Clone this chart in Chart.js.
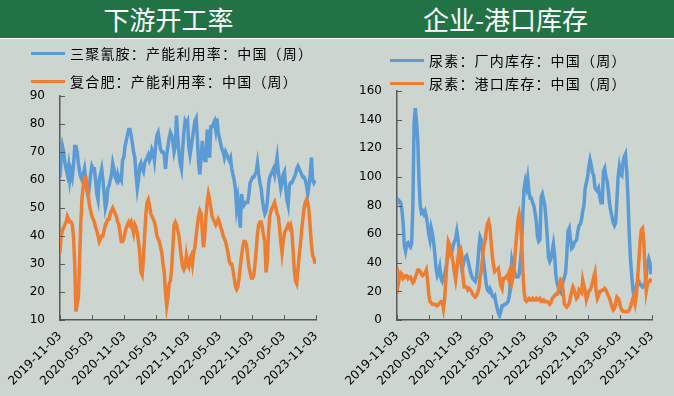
<!DOCTYPE html>
<html>
<head>
<meta charset="utf-8">
<script src="https://cdn.jsdelivr.net/npm/chart.js@4.4.1/dist/chart.umd.min.js"></script>
<style>
  body { margin: 0; width: 674px; height: 396px; background: #CCD5D0; overflow: hidden; }
  .panel { position: absolute; top: 0; width: 337px; height: 396px; }
  .head { height: 38px; line-height: 38px; background: #217346; border-bottom: 1px solid #fff;
          color: #fff; text-align: center; font: 26px 'Noto Sans CJK SC', sans-serif; }
  .panel canvas { position: absolute; left: 0; top: 39px; }
  .leg { position: absolute; display: flex; align-items: center; height: 20px;
         font: 14px 'Noto Sans CJK SC', sans-serif; letter-spacing: 1.2px; color: #000; white-space: nowrap; }
  .leg i { display: inline-block; width: 34px; height: 3px; margin-right: 5px; }
</style>
</head>
<body>
<div class="panel" style="left:0">
  <div class="head">下游开工率</div>
  <canvas id="rateChart" width="337" height="357"></canvas>
  <div class="leg" style="left:31px; top:43px"><i style="background:#5B9BD5"></i>三聚氰胺：产能利用率：中国（周）</div>
  <div class="leg" style="left:31px; top:71px"><i style="background:#ED7D31"></i>复合肥：产能利用率：中国（周）</div>
</div>
<div class="panel" style="left:337px">
  <div class="head">企业-港口库存</div>
  <canvas id="stockChart" width="337" height="357"></canvas>
  <div class="leg" style="left:53px; top:50px"><i style="background:#5B9BD5"></i>尿素：厂内库存：中国（周）</div>
  <div class="leg" style="left:53px; top:73px"><i style="background:#ED7D31"></i>尿素：港口库存：中国（周）</div>
</div>
<script>
// weekly series, first week = 2019-11-03
const startDate = '2019-11-03';
const tickLabels = ['2019-11-03', '2020-05-03', '2020-11-03', '2021-05-03', '2021-11-03',
                    '2022-05-03', '2022-11-03', '2023-05-03', '2023-11-03'];

// 三聚氰胺：产能利用率
const melamineRate = [
  61,68,72,70,66,64,62,65,60,63, 61,65,72,72,70,66,63,61,60,62,
  64,60,56,54,58,62,65,64,64,60, 55,53,60,62,64,60,55,50,52,57,
  58,60,62,66,64,61,60,62,60,61, 60,67,68,72,74,76,78,78,76,73,
  70,68,62,57,60,65,66,64,63,66, 67,68,69,67,68,71,70,67,72,76,
  77,74,71,70,70,69,64,69,72,75, 77,76,74,70,72,83,75,70,66,64,
  71,77,81,80,81,72,69,72,75,78, 81,82,75,66,62,68,74,69,67,67,
  78,72,68,79,79,80,81,78,82,77, 75,73,71,70,68,70,69,68,67,68,
  64,62,60,57,50,53,48,43,55,52, 51,52,52,52,55,59,60,61,61,62,
  63,66,62,59,57,53,50,48,49,52, 58,61,62,63,64,62,65,68,63,60,
  57,59,62,63,57,53,51,58,59,59, 60,61,62,64,65,64,63,62,61,61,
  60,58,55,58,62,68,60,59,60
];
// 复合肥：产能利用率
const compoundRate = [
  34,40,42,43,44,45,47,46,45,45, 44,40,30,13,16,18,32,45,54,58,
  61,61,58,55,51,49,47,46,45,43, 42,40,38,39,40,40,42,44,45,46,
  46,48,49,50,49,48,47,45,44,41, 38,38,39,41,43,44,45,44,45,43,
  41,44,43,41,38,34,27,26,32,40, 48,52,53,51,48,47,46,45,43,40,
  39,38,36,34,30,27,20,15,18,23, 24,28,36,44,45,44,42,40,36,32,
  29,28,29,33,30,29,32,33,30,34, 36,40,44,47,49,48,42,36,40,47,
  52,55,53,50,47,46,45,44,45,46, 45,43,42,40,39,38,36,34,31,30,
  30,28,25,22,21,22,25,29,33,36, 38,38,37,33,29,27,25,25,26,30,
  35,41,44,45,45,43,40,38,27,31, 41,47,49,50,51,52,50,48,47,43,
  38,34,38,41,42,43,44,43,44,42, 35,28,24,23,28,33,37,42,46,50,
  52,53,52,49,43,37,33,32,30
];
// 尿素：厂内库存
const ureaFactory = [
  81,84,83,82,77,68,52,48,53,54, 52,51,54,80,138,148,138,125,98,80,
  75,76,74,76,72,67,60,56,64,60, 54,46,36,31,33,37,29,27,30,32,
  36,42,45,47,50,48,52,55,57,62, 56,48,42,36,38,42,44,45,42,38,
  34,31,29,28,27,30,38,50,58,56, 48,40,33,25,21,20,22,20,17,16,
  17,12,8,5,3,6,10,10,11,11, 12,13,17,30,42,38,34,31,30,30,
  32,40,52,75,92,97,93,99,90,85, 85,82,80,75,69,58,55,56,86,88,
  84,80,70,58,44,41,43,48,53,45, 32,26,23,20,19,24,27,30,33,46,
  62,64,56,50,51,54,55,56,62,66, 67,70,76,80,92,96,100,107,112,108,
  103,101,93,91,90,92,86,82,82,104, 106,100,97,90,81,76,72,68,66,68,
  84,100,107,102,101,110,114,116,104,86, 62,44,32,22,16,18,24,27,27,25,
  24,23,24,26,30,40,43,40,32
];
// 尿素：港口库存
const ureaPort = [
  37,25,30,33,32,29,30,31,31,29, 30,30,28,26,27,30,32,35,35,34,
  32,31,32,33,35,28,18,13,12,11, 11,11,10,10,11,12,13,13,8,15,
  28,43,55,53,48,44,40,33,28,35, 44,49,50,45,30,23,23,23,21,22,
  21,20,18,17,16,17,19,22,30,35, 43,51,55,62,67,69,65,55,45,38,
  34,35,35,36,29,24,22,29,29,30, 31,29,34,36,26,30,38,50,60,70,
  74,69,55,35,20,14,13,14,15,14, 14,15,14,14,15,14,14,15,13,13,
  14,13,13,13,12,11,12,15,16,17, 18,18,20,25,28,27,20,11,10,9,
  10,12,16,20,23,21,18,15,16,21, 20,19,28,24,20,14,17,20,21,23,
  26,30,33,20,15,17,20,20,21,21, 22,21,19,17,15,12,9,7,8,12,
  16,15,13,9,7,6,6,6,6,6, 7,9,12,15,17,12,18,30,42,55,
  63,64,55,35,20,25,27,27,29
];

const DAY = 86400000;
const tickDays = tickLabels.map(d => (Date.parse(d) - Date.parse(startDate)) / DAY);
const toPoints = arr => arr.map((v, i) => ({ x: i * 7, y: v }));

Chart.defaults.font.family = "'DejaVu Sans', sans-serif";
Chart.defaults.font.size = 12;
Chart.defaults.color = '#000';

const axisColor = '#595959';

// Excel-style tick marks pointing into the plot
const innerTicks = {
    id: 'innerTicks',
    afterDraw(chart) {
        const { ctx, chartArea: a, scales: { x, y } } = chart;
        ctx.save();
        ctx.strokeStyle = axisColor;
        ctx.lineWidth = 1;
        ctx.beginPath();
        y.ticks.forEach(t => {
            const py = Math.round(y.getPixelForValue(t.value)) + 0.5;
            ctx.moveTo(a.left, py);
            ctx.lineTo(a.left + 5, py);
        });
        x.ticks.forEach(t => {
            const px = Math.round(x.getPixelForValue(t.value)) + 0.5;
            ctx.moveTo(px, a.bottom);
            ctx.lineTo(px, a.bottom - 5);
        });
        ctx.stroke();
        ctx.restore();
    }
};

function makeChart(id, blue, orange, yMin, yMax, yStep, padTop, padRight) {
    return new Chart(document.getElementById(id), {
        type: 'line',
        data: {
            datasets: [
                { data: toPoints(blue), borderColor: '#5B9BD5', borderWidth: 3.5, pointRadius: 0, order: 1 },
                { data: toPoints(orange), borderColor: '#ED7D31', borderWidth: 3.5, pointRadius: 0, order: 0 }
            ]
        },
        options: {
            responsive: false,
            animation: false,
            layout: { padding: { top: padTop, right: padRight, left: 0, bottom: 0 } },
            plugins: { legend: { display: false }, tooltip: { enabled: false } },
            scales: {
                x: {
                    type: 'linear',
                    min: 0,
                    max: tickDays[tickDays.length - 1],
                    grid: { display: false, drawTicks: false },
                    border: { display: true, color: axisColor, width: 1.5 },
                    afterBuildTicks: s => { s.ticks = tickDays.map(v => ({ value: v })); },
                    afterFit: s => { s.height = 76; },
                    ticks: {
                        autoSkip: false,
                        minRotation: 45,
                        maxRotation: 45,
                        padding: 9,
                        callback: (v, i) => tickLabels[i]
                    }
                },
                y: {
                    min: yMin,
                    max: yMax,
                    grid: { display: false, drawTicks: false },
                    border: { display: true, color: axisColor, width: 1.5 },
                    afterFit: s => { s.width = 60; },
                    ticks: { stepSize: yStep, padding: 15 }
                }
            }
        },
        plugins: [innerTicks]
    });
}

makeChart('rateChart', melamineRate, compoundRate, 10, 90, 10, 57, 21);
makeChart('stockChart', ureaFactory, ureaPort, 0, 160, 20, 52, 22);
</script>
</body>
</html>
